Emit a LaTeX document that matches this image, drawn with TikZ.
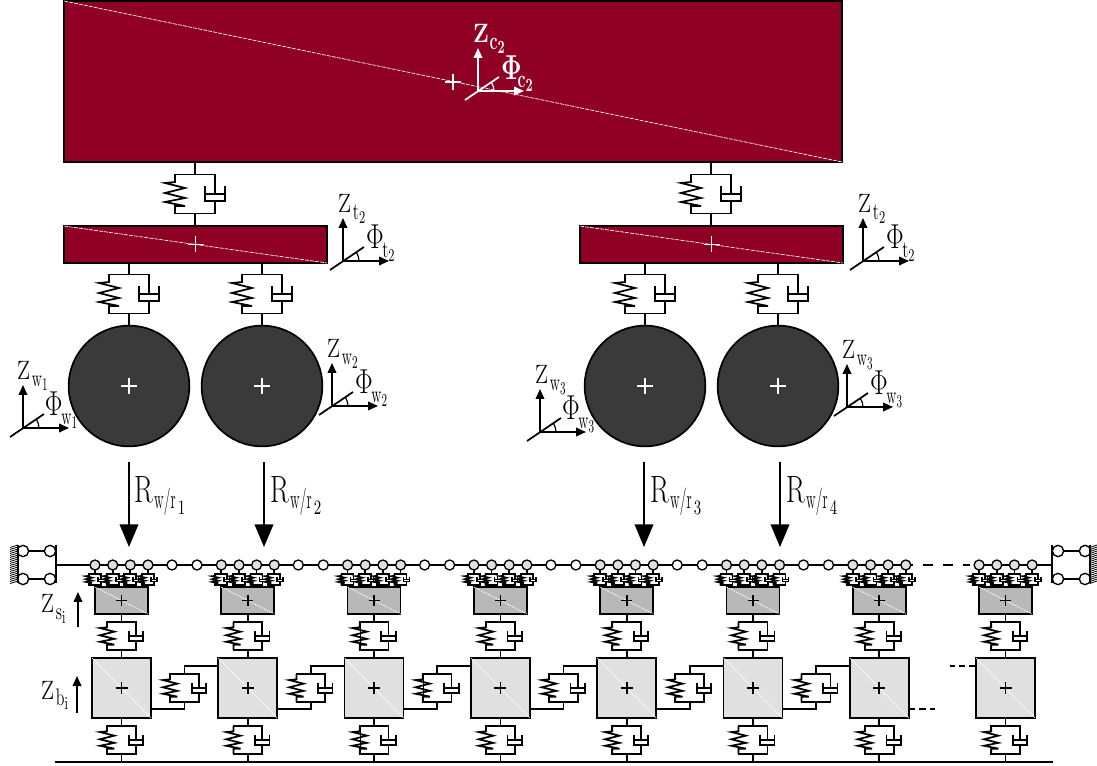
\documentclass[tikz,border=0pt]{standalone}
\usepackage{graphicx}
\usetikzlibrary{arrows.meta,calc}
\definecolor{bodyred}{HTML}{900024}
\definecolor{wheelgrey}{HTML}{3A3A3A}
\definecolor{sleepergrey}{HTML}{B8B8B8}
\definecolor{ballastgrey}{HTML}{E0E0E0}
\tikzset{
  ln/.style={line width=1.3pt,line join=miter},
  block/.style n args={3}{draw=black,line width=1.3pt,fill=#3,rectangle,inner sep=0pt,outer sep=0pt,
     minimum width=#1*0.75pt,minimum height=#2*0.75pt},
  wheelnode/.style={draw=black,line width=1.3pt,fill=wheelgrey,circle,inner sep=0pt,outer sep=0pt,minimum size=90.5pt},
  ball/.style={draw=black,line width=1pt,fill=#1,circle,inner sep=0pt,outer sep=0pt,minimum size=7.5pt},
  diag/.style={white,line width=0.5pt,dash pattern=on 3pt off 0.8pt},
  lbl/.style={inner sep=0pt,outer sep=0pt,anchor=base west,font=\fontsize{18}{20}\selectfont},
  small arrow/.style={ln,-{Triangle[width=6.5pt,length=7.5pt]}},
  force arrow/.style={ln,-{Triangle[width=14pt,length=17pt]}},
  susp/.pic={
    \coordinate (-t) at (0,-19.5);
    \coordinate (-b) at (0,19.5);
    \draw[ln,fill=white] (-20,-19.5) -- (20,-19.5) -- (20,19.5) -- (-20,19.5) -- cycle;
    \fill[white] (-31,-13) rectangle (-19,13);
    \fill[white] (9,-9) rectangle (31,8);
    \draw[ln] (-20,-19.5) -- (-20,-12) -- (-30,-11) -- (-10,-6) -- (-30,-1) -- (-10,4) -- (-30,8) -- (-10,12) -- (-20,12) -- (-20,19.5);
    \draw[ln] (20,-19.5) -- (20,0);
    \draw[ln] (10,-7.5) -- (10,7) -- (30,7) -- (30,-7.5);
    \draw[ln] (10,0) -- (30,0);
    \draw[ln] (20,7) -- (20,19.5);
  }
}
\newcommand{\plusat}[3]{\draw[#2,line width=1.3pt,shift={#1}] (-#3,0) -- (#3,0) (0,-#3) -- (0,#3);}
\newcommand{\axesat}[4]{%
  \coordinate (#1o) at (#2,#3);
  \coordinate (#1z) at (#2,#3-43);
  \coordinate (#1x) at (#2+46,#3);
  \coordinate (#1a) at (#2-13,#3+9);
  \coordinate (#1c) at (#2+21,#3-14);
  \draw[small arrow,#4] (#1o) -- (#1z);
  \draw[small arrow,#4] (#1o) -- (#1x);
  \draw[ln,#4] (#1a) -- (#1c);
  \draw[line width=0.9pt,#4] (#2+16,#3) .. controls (#2+16,#3-3) and (#2+15,#3-6) .. (#2+13.3,#3-9);
}
% #1 horizontal scale of the subscript, #2 letter, #3 index, #4 drop
\newcommand{\subl}[4]{\raisebox{-#4}{\scalebox{#1}[1.5]{$\scriptstyle\mathrm{#2_{#3}}$}}}
\newcommand{\zlab}[3]{\scalebox{1}[1.15]{$\mathrm{Z}$}\kern1.5pt\subl{#1}{#2}{#3}{5pt}}
\newcommand{\plab}[3]{\scalebox{1.15}[1.5]{$\Phi$}\kern-1pt\subl{#1}{#2}{#3}{6.5pt}}
\newcommand{\rlab}[1]{\scalebox{1.2}[1.65]{$\mathrm{R}$}\kern1pt\raisebox{-4pt}{\scalebox{.85}[1.7]{$\scriptstyle\mathrm{w/r}$}}\kern1.5pt\raisebox{-8.5pt}{\scalebox{1.2}[1.7]{$\scriptscriptstyle #1$}}}
\newcommand{\zbold}{{\boldmath\scalebox{1}[1.15]{$\mathbf{Z}$}\kern.5pt\raisebox{-5pt}{\scalebox{1}[1.55]{$\scriptstyle\mathbf{c_{2}}$}}}}
\newcommand{\pbold}{{\boldmath\scalebox{1.1}[1.5]{$\mathbf{\Phi}$}\kern-3pt\raisebox{-6pt}{\scalebox{1}[1.55]{$\scriptstyle\mathbf{c_{2}}$}}}}
\begin{document}
\begin{tikzpicture}[x=0.75pt,y=-0.75pt]
\useasboundingbox (0,0) rectangle (1097,766);

% car body
\node[block={778}{161}{bodyred}] (body) at (453,81.5) {};
\draw[diag] (body.north west) -- (body.south east);
\plusat{(453,82)}{white}{8}
\axesat{ac}{478}{91}{white}
\node[lbl,text=white] (aclz) at (473,43) {\zbold};
\node[lbl,text=white] (aclp) at (501,80) {\pbold};

% trucks
\node[block={263}{37}{bodyred}] (t1) at (195.5,244.5) {};
\node[block={263}{37}{bodyred}] (t2) at (711.5,244.5) {};
\foreach \tk in {t1,t2}{
  \draw[diag] (\tk.north west) -- (\tk.south east);
  \plusat{(\tk.center)}{white}{8}
}

% secondary suspensions
\pic (ss1) at (195,194) {susp};
\pic (ss2) at (711,194) {susp};
\draw[ln] (body.south -| ss1-t) -- (ss1-t) (ss1-b) -- (t1.north -| ss1-b);
\draw[ln] (body.south -| ss2-t) -- (ss2-t) (ss2-b) -- (t2.north -| ss2-b);

% wheels
\node[wheelnode] (w1) at (129,386) {};
\node[wheelnode] (w2) at (262,386) {};
\node[wheelnode] (w3) at (645,386) {};
\node[wheelnode] (w4) at (778,386) {};
\foreach \w in {w1,w2,w3,w4}{\plusat{(\w.center)}{white}{8}}

% primary suspensions
\pic (ps1) at (129,294) {susp};
\pic (ps2) at (262,294) {susp};
\pic (ps3) at (645,294) {susp};
\pic (ps4) at (778,294) {susp};
\draw[ln] (t1.south -| ps1-t) -- (ps1-t) (ps1-b) -- (w1.north);
\draw[ln] (t1.south -| ps2-t) -- (ps2-t) (ps2-b) -- (w2.north);
\draw[ln] (t2.south -| ps3-t) -- (ps3-t) (ps3-b) -- (w3.north);
\draw[ln] (t2.south -| ps4-t) -- (ps4-t) (ps4-b) -- (w4.north);

% axes
\axesat{at1}{343}{261}{black}
\node[lbl] (lzt1) at (338,213) {\zlab{1}{t}{2}};
\node[lbl] (lpt1) at (366,249) {\plab{1}{t}{2}};
\axesat{at2}{863}{261}{black}
\node[lbl] (lzt2) at (858,213) {\zlab{1}{t}{2}};
\node[lbl] (lpt2) at (886,249) {\plab{1}{t}{2}};
\axesat{aw1}{23}{428}{black}
\node[lbl] (lzw1) at (17,380) {\zlab{.9}{w}{1}};
\node[lbl] (lpw1) at (45,416) {\plab{.9}{w}{1}};
\axesat{aw2}{332}{406}{black}
\node[lbl] (lzw2) at (327,358) {\zlab{.9}{w}{2}};
\node[lbl] (lpw2) at (355,394) {\plab{.9}{w}{2}};
\axesat{aw3}{540}{432}{black}
\node[lbl] (lzw3) at (535,384) {\zlab{.9}{w}{3}};
\node[lbl] (lpw3) at (562,420) {\plab{.9}{w}{3}};
\axesat{aw4}{847}{407}{black}
\node[lbl] (lzw4) at (842,359) {\zlab{.9}{w}{3}};
\node[lbl] (lpw4) at (870,395) {\plab{.9}{w}{3}};

% ground
\coordinate (gl) at (55,762);
\coordinate (gr) at (1053,762);
\draw[line width=1.5pt] (gl) -- (gr);

% rail, sleepers, ballast blocks
\foreach \i in {0,...,7}{
  \pgfmathsetmacro{\cx}{121.5+126.3*\i}
  \node[block={53}{27}{sleepergrey}] (slp\i) at (\cx,600.5) {};
  \node[block={59}{60}{ballastgrey}] (bal\i) at (\cx,688) {};
  \draw[white,line width=0.6pt,dash pattern=on 1.2pt off 0.8pt] (slp\i.north west) -- (slp\i.south east);
  \draw[white,line width=0.4pt] (bal\i.north west) -- (bal\i.south east);
  \plusat{(slp\i.center)}{black}{5.5}
  \plusat{(bal\i.center)}{black}{6}
  \pic[scale=0.72] (sb\i) at (\cx,636) {susp};
  \pic[scale=0.72] (bg\i) at (\cx,740) {susp};
  \draw[ln] (slp\i.south) -- (sb\i-t) (sb\i-b) -- (bal\i.north);
  \draw[ln] (bal\i.south) -- (bg\i-t);
  \draw[ln] (bg\i-b) -- (bg\i-b |- gl);
}

\coordinate (lf) at (56,565);
\coordinate (rf) at (1052,565);
\coordinate (dashL) at (905,565);
\coordinate (dashR) at (978,565);
\draw[ln] (lf) -- (dashL);
\draw[ln,dash pattern=on 7.5pt off 7.5pt] ($(dashL)+(18,0)$) -- ($(dashR)+(-8,0)$);
\draw[ln] (dashL) -- ($(dashL)+(8,0)$);
\draw[ln] (dashR) -- (rf);

\foreach \i in {0,...,7}{
  \pgfmathsetmacro{\cx}{121.5+126.3*\i}
  \foreach \k/\d in {1/-26.5,2/-8.8,3/8.8,4/26.5}{
    \node[ball=ballastgrey] (r\i\k) at (\cx+\d,565) {};
    \pic[scale=0.3] (rp\i\k) at (\cx+\d,579.5) {susp};
    \draw[ln] (r\i\k) -- (rp\i\k-t);
    \draw[ln] (rp\i\k-b) -- (rp\i\k-b |- slp\i.north);
  }
}
\foreach \i in {0,...,5}{
  \pgfmathsetmacro{\cx}{121.5+126.3*\i}
  \node[ball=white] (ra\i) at (\cx+50.5,565) {};
  \node[ball=white] (rb\i) at (\cx+75.5,565) {};
}

% shear links between ballast blocks
\foreach \i/\j in {0/1,1/2,2/3,3/4,4/5,5/6}{
  \pgfmathsetmacro{\cx}{121.5+126.3*\i+63}
  \pic[scale=0.72] (sh\i) at (\cx,688) {susp};
  \draw[ln] (sh\i-b) -- (sh\i-b |- 0,709) -- (bal\i.east |- 0,709);
  \draw[ln] (sh\i-t) -- (sh\i-t |- 0,666) -- (bal\j.west |- 0,666);
}
\draw[ln,dash pattern=on 5pt off 3pt] (bal6.east |- 0,709) -- ++(26,0);
\draw[ln,dash pattern=on 5pt off 3pt] (bal7.west |- 0,666) -- ++(-26,0);

% end supports
\coordinate (lft) at (56,545);
\coordinate (lfb) at (56,583);
\coordinate (rft) at (1052,545);
\coordinate (rfb) at (1052,583);
\draw[ln] (lft) -- (lfb);
\draw[ln] (rft) -- (rfb);
\node[ball=white,minimum size=8.5pt] (la) at (23,551) {};
\node[ball=white,minimum size=8.5pt] (lb) at (50,551) {};
\node[ball=white,minimum size=8.5pt] (lc) at (23,579) {};
\node[ball=white,minimum size=8.5pt] (ld) at (50,579) {};
\node[ball=white,minimum size=8.5pt] (ea) at (1058,551) {};
\node[ball=white,minimum size=8.5pt] (eb) at (1085,551) {};
\node[ball=white,minimum size=8.5pt] (ec) at (1058,579) {};
\node[ball=white,minimum size=8.5pt] (ed) at (1085,579) {};
\draw[ln] (la) -- (lb) (lc) -- (ld) (ea) -- (eb) (ec) -- (ed);
\foreach \y in {545,547,...,581}{
  \draw[line width=0.6pt] (10,\y+2.5) -- (18,\y);
  \draw[line width=0.6pt] (1090,\y+2.5) -- (1097,\y);
}
\draw[line width=0.8pt] (18,545) -- (18,583);
\draw[line width=0.8pt] (1090,545) -- (1090,583);

% wheel/rail forces
\foreach \n/\x in {1/129,2/264,3/644,4/780}{
  \coordinate (fs\n) at (\x,462);
  \coordinate (fe\n) at (\x,547);
  \draw[force arrow] (fs\n) -- (fe\n);
}
\node[lbl] (lr1) at (134,503) {\rlab{1}};
\node[lbl] (lr2) at (270,503) {\rlab{2}};
\node[lbl] (lr3) at (650,503) {\rlab{3}};
\node[lbl] (lr4) at (786,503) {\rlab{4}};

% sleeper and ballast displacement
\coordinate (zs1) at (78,627);
\coordinate (zs2) at (78,592);
\coordinate (zb1) at (77,713);
\coordinate (zb2) at (77,676);
\draw[small arrow] (zs1) -- (zs2);
\draw[small arrow] (zb1) -- (zb2);
\node[lbl] (lzs) at (41,613) {\zlab{1}{s}{i}};
\node[lbl] (lzb) at (41,699) {\zlab{1}{b}{i}};
\end{tikzpicture}
\end{document}
